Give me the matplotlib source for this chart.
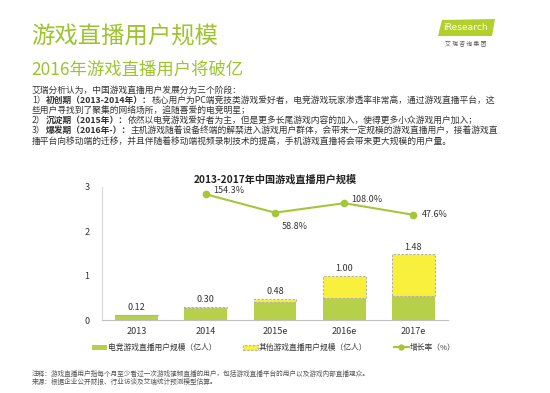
import matplotlib
matplotlib.use("Agg")
import matplotlib.pyplot as plt
from matplotlib.patches import Patch, Polygon
from matplotlib.lines import Line2D

plt.rcParams['font.family'] = ['Noto Sans CJK SC', 'DejaVu Sans']

# ---- data ----
categories = ["2013", "2014", "2015e", "2016e", "2017e"]
esports_users = [0.12, 0.28, 0.41, 0.50, 0.54]
other_users = [0.00, 0.02, 0.07, 0.50, 0.94]
total_labels = ["0.12", "0.30", "0.48", "1.00", "1.48"]
growth_cats = ["2014", "2015e", "2016e", "2017e"]
growth_rate = [154.3, 58.8, 108.0, 47.6]
growth_labels = ["154.3%", "58.8%", "108.0%", "47.6%"]
yticks = [0, 1, 2, 3]

GREEN_T = "#9dc42e"
BAR_GREEN = "#b6d04a"
BAR_YELLOW = "#f8f03c"
LINE_GREEN = "#a6c63a"
TXT = "#333333"

W, H = 550, 393
fig = plt.figure(figsize=(W / 100, H / 100), dpi=100)
fig.patch.set_facecolor("white")

# ---- header ----
fig.text(31 / W, 1 - 37 / H, "游戏直播用户规模", fontsize=16.8, color=GREEN_T, va="center", ha="left")
fig.text(31 / W, 1 - 70 / H, "2016年游戏直播用户将破亿", fontsize=12.5, color=GREEN_T, va="center", ha="left")

# logo
logo = Polygon([[438 / W, 1 - 36 / H], [442 / W, 1 - 20 / H], [495 / W, 1 - 19 / H], [492 / W, 1 - 36 / H]],
               closed=True, transform=fig.transFigure, facecolor="#b2cf2c", edgecolor="none")
fig.patches.append(logo)
fig.text(466 / W, 1 - 28 / H, "iResearch", fontsize=6.6, color="white", ha="center", va="center",
         family=["DejaVu Sans"])
fig.text(466 / W, 1 - 44 / H, "艾 瑞 咨 询 集 团", fontsize=4.2, color="#555555", ha="center", va="center")

# ---- body paragraph with mixed weight ----
renderer = fig.canvas.get_renderer()
BODY = 6.3


def rich_line(x_px, y_px, segments, size=BODY):
    x = x_px
    for txt, wt in segments:
        t = fig.text(x / W, 1 - y_px / H, txt, fontsize=size, fontweight=wt, color=TXT,
                     ha="left", va="center")
        bb = t.get_window_extent(renderer)
        x += bb.width


lines = [
    [("艾瑞分析认为，中国游戏直播用户发展分为三个阶段：", "normal")],
    [("1）", "normal"), ("初创期（2013-2014年）：", "bold"),
     ("核心用户为PC端竞技类游戏爱好者，电竞游戏玩家渗透率非常高，通过游戏直播平台，这", "normal")],
    [("些用户寻找到了聚集的网络场所，追随喜爱的电竞明星；", "normal")],
    [("2）", "normal"), ("沉淀期（2015年）：", "bold"),
     ("依然以电竞游戏爱好者为主，但是更多长尾游戏内容的加入，使得更多小众游戏用户加入；", "normal")],
    [("3）", "normal"), ("爆发期（2016年-）：", "bold"),
     ("主机游戏随着设备终端的解禁进入游戏用户群体，会带来一定规模的游戏直播用户，接着游戏直", "normal")],
    [("播平台向移动端的迁移，并且伴随着移动端视频录制技术的提高，手机游戏直播将会带来更大规模的用户量。", "normal")],
]
for i, segs in enumerate(lines):
    rich_line(32, 90 + i * 10.2, segs)

# ---- chart ----
ax = fig.add_axes([102 / W, 73 / H, 346 / W, 133 / H])
x = list(range(len(categories)))
ax.bar(x, esports_users, width=0.62, color=BAR_GREEN, edgecolor="none", zorder=2)
ax.bar(x, other_users, width=0.62, bottom=esports_users, color=BAR_YELLOW,
       edgecolor="#b0b0b0", linestyle=(0, (2, 1.5)), linewidth=0.8, zorder=2)
for xi, g, o, lab in zip(x, esports_users, other_users, total_labels):
    ax.text(xi, g + o + 0.06, lab, ha="center", va="bottom", fontsize=6.5, color=TXT)

ax.set_xlim(-0.5, len(categories) - 0.5)
ax.set_ylim(0, 3)
ax.set_yticks(yticks)
ax.set_xticks(x)
ax.set_xticklabels(categories)
ax.tick_params(axis="both", length=0, labelsize=6.5, labelcolor=TXT)
ax.tick_params(axis="y", pad=9)
ax.tick_params(axis="x", pad=5)
for s in ["top", "right"]:
    ax.spines[s].set_visible(False)
ax.spines["left"].set_color("#d9d9d9")
ax.spines["bottom"].set_color("#bfbfbf")
ax.set_title("2013-2017年中国游戏直播用户规模", fontsize=7.3, fontweight="bold", color="#222222", pad=3)

ax2 = ax.twinx()
gx = [categories.index(c) for c in growth_cats]
ax2.plot(gx, growth_rate, color=LINE_GREEN, linewidth=1.5, marker="o", markersize=4.5, zorder=3)
ax2.set_ylim(-498, 192)
ax2.axis("off")
offsets = [(5, 3), (5, -10), (5, 3), (6, 0)]
for xi, v, lab, (dx, dy) in zip(gx, growth_rate, growth_labels, offsets):
    ax2.annotate(lab, (xi, v), xytext=(dx, dy), textcoords="offset points",
                 ha="left", va="center", fontsize=6.5, color=TXT)

# ---- legend ----
handles = [
    Patch(facecolor=BAR_GREEN, edgecolor="none", label="电竞游戏直播用户规模（亿人）"),
    Patch(facecolor=BAR_YELLOW, edgecolor="#b0b0b0", linestyle=(0, (2, 1.5)), linewidth=0.8,
          label="其他游戏直播用户规模（亿人）"),
    Line2D([0], [0], color=LINE_GREEN, linewidth=1.5, marker="o", markersize=3.5, label="增长率（%）"),
]
fig.legend(handles=handles, loc="center left", bbox_to_anchor=(92 / W, 1 - 348 / H), ncol=3,
           frameon=False, fontsize=5.6, handlelength=1.9, handleheight=0.7, handletextpad=0.15,
           columnspacing=3.4, labelcolor=TXT, borderaxespad=0, borderpad=0)

# ---- footnotes ----
fig.text(32 / W, 1 - 374 / H, "注释：游戏直播用户指每个月至少看过一次游戏视频直播的用户，包括游戏直播平台的用户以及游戏内部直播观众。",
         fontsize=4.8, color="#555555", ha="left", va="center")
fig.text(32 / W, 1 - 382 / H, "来源：根据企业公开财报、行业访谈及艾瑞统计预测模型估算。",
         fontsize=4.8, color="#555555", ha="left", va="center")

fig.savefig("out.png", dpi=100)
